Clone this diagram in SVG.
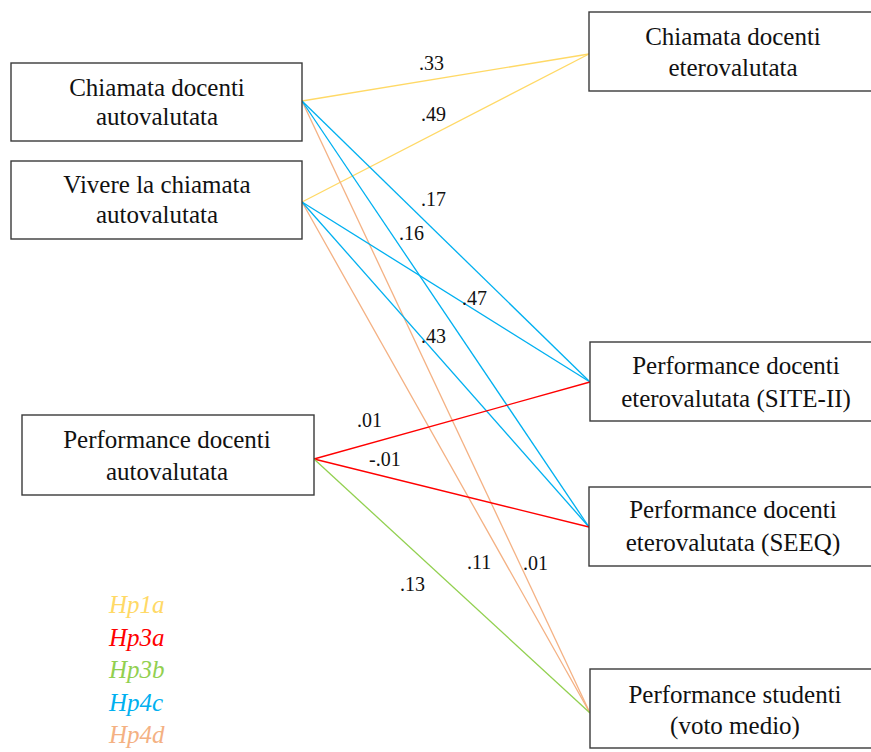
<svg xmlns="http://www.w3.org/2000/svg" width="871" height="752" viewBox="0 0 871 752">
<style>
.box{fill:#fff;stroke:#3a3a3a;stroke-width:1.4}
.t{font-family:"Liberation Serif","Times New Roman",serif;font-size:25px;fill:#111;text-anchor:middle}
.l{font-family:"Liberation Serif","Times New Roman",serif;font-size:20px;fill:#111}
.lg{font-family:"Liberation Serif","Times New Roman",serif;font-size:25px;font-style:italic}
.c{fill:none;stroke-width:1.3}
.y{stroke:#FFD966}.r{stroke:#FF0000}.g{stroke:#92D050}.b{stroke:#00B0F0}.o{stroke:#F4B183}
</style>
<rect width="871" height="752" fill="#fff"/>
<g id="connectors">
<line class="c y" x1="302" y1="101" x2="589" y2="54"/>
<line class="c y" x1="302" y1="202" x2="589" y2="54"/>
<line class="c o" x1="302" y1="101" x2="590" y2="713"/>
<line class="c o" x1="302" y1="202" x2="590" y2="713"/>
<line class="c b" x1="302" y1="101" x2="590" y2="382"/>
<line class="c b" x1="302" y1="101" x2="589" y2="527"/>
<line class="c b" x1="302" y1="202" x2="590" y2="382"/>
<line class="c b" x1="302" y1="202" x2="589" y2="527"/>
<line class="c r" x1="314" y1="459" x2="590" y2="382"/>
<line class="c r" x1="314" y1="459" x2="589" y2="527"/>
<line class="c g" x1="314" y1="459" x2="590" y2="713"/>
</g>
<g id="labels">
<text class="l" x="419" y="70">.33</text>
<text class="l" x="421" y="121">.49</text>
<text class="l" x="421" y="206">.17</text>
<text class="l" x="399" y="240">.16</text>
<text class="l" x="462" y="305">.47</text>
<text class="l" x="421" y="343">.43</text>
<text class="l" x="357" y="427">.01</text>
<text class="l" x="369" y="466">-.01</text>
<text class="l" x="467" y="569">.11</text>
<text class="l" x="523" y="570">.01</text>
<text class="l" x="400" y="591">.13</text>
</g>
<g id="n1"><rect class="box" x="11" y="63" width="291" height="78"/>
<text class="t" x="157" y="96">Chiamata docenti</text><text class="t" x="157" y="125">autovalutata</text></g>
<g id="n2"><rect class="box" x="11" y="161" width="291" height="78"/>
<text class="t" x="157" y="193">Vivere la chiamata</text><text class="t" x="157" y="223">autovalutata</text></g>
<g id="n3"><rect class="box" x="22" y="415" width="292" height="80"/>
<text class="t" x="167" y="448">Performance docenti</text><text class="t" x="167" y="480">autovalutata</text></g>
<g id="n4"><rect class="box" x="589" y="12" width="292" height="79"/>
<text class="t" x="733" y="45">Chiamata docenti</text><text class="t" x="733" y="76">eterovalutata</text></g>
<g id="n5"><rect class="box" x="590" y="342" width="292" height="79"/>
<text class="t" x="736" y="374">Performance docenti</text><text class="t" x="736" y="407">eterovalutata (SITE-II)</text></g>
<g id="n6"><rect class="box" x="589" y="487" width="292" height="79"/>
<text class="t" x="733" y="518">Performance docenti</text><text class="t" x="733" y="551">eterovalutata (SEEQ)</text></g>
<g id="n7"><rect class="box" x="590" y="669" width="292" height="79"/>
<text class="t" x="735" y="703">Performance studenti</text><text class="t" x="735" y="734">(voto medio)</text></g>
<g id="legend">
<text class="lg" x="109" y="613" fill="#FFD966">Hp1a</text>
<text class="lg" x="109" y="646" fill="#FF0000">Hp3a</text>
<text class="lg" x="109" y="678" fill="#92D050">Hp3b</text>
<text class="lg" x="109" y="711" fill="#00B0F0">Hp4c</text>
<text class="lg" x="109" y="743" fill="#F4B183">Hp4d</text>
</g>
</svg>
